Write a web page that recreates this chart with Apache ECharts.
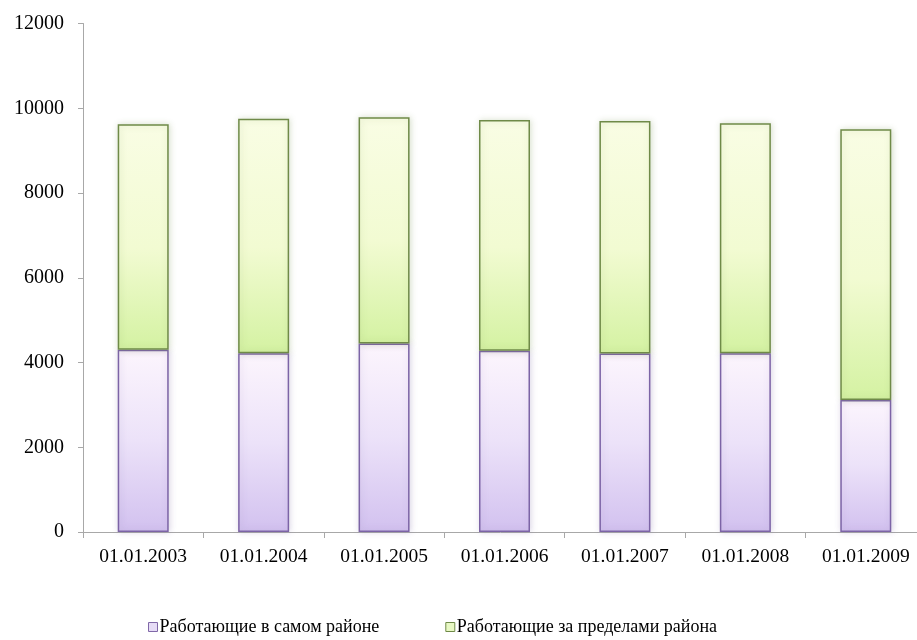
<!DOCTYPE html>
<html>
<head>
<meta charset="utf-8">
<script src="https://cdn.jsdelivr.net/npm/echarts@6/dist/echarts.min.js"></script>
<style>html,body{margin:0;padding:0;background:#fff}#c{width:917px;height:640px}</style>
</head>
<body>
<div id="c"></div>
<script>
const categories = ['01.01.2003','01.01.2004','01.01.2005','01.01.2006','01.01.2007','01.01.2008','01.01.2009'];
const localWorkers = [4300, 4220, 4450, 4275, 4210, 4220, 3115];
const outsideWorkers = [5320, 5530, 5340, 5445, 5490, 5425, 6390];
const seriesNames = ['Работающие в самом районе', 'Работающие за пределами района'];

const chart = echarts.init(document.getElementById('c'), null, {renderer: 'canvas'});
const font = 'Liberation Serif';
chart.setOption({
  animation: false,
  backgroundColor: '#ffffff',
  grid: {left: 83, width: 843, top: 23.5, bottom: 108, containLabel: false, outerBoundsMode: 'none'},
  legend: {
    top: 613, left: 143, itemGap: 66, itemWidth: 9, itemHeight: 9, icon: 'rect',
    textStyle: {fontFamily: font, fontSize: 18, color: '#000', padding: [0,0,0,-3]},
    data: [
      {name: seriesNames[0], itemStyle: {color: '#e6dcf6', borderColor: '#8068a8', borderWidth: 1}},
      {name: seriesNames[1], itemStyle: {color: '#e8f8c4', borderColor: '#6f8a48', borderWidth: 1}}
    ]
  },
  xAxis: {
    type: 'category', data: categories,
    axisLine: {lineStyle: {color: '#a8a8a8', width: 1}},
    axisTick: {show: true, length: 6, lineStyle: {color: '#a8a8a8'}},
    axisLabel: {fontFamily: font, fontSize: 19.5, color: '#000', margin: 15}
  },
  yAxis: {
    type: 'value', min: 0, max: 12000, interval: 2000,
    axisLine: {show: true, lineStyle: {color: '#a8a8a8', width: 1}},
    axisTick: {show: true, length: 5, lineStyle: {color: '#a8a8a8'}},
    splitLine: {show: false},
    axisLabel: {fontFamily: font, fontSize: 20, color: '#000', margin: 19, formatter: v => String(v)}
  },
  series: [
    {
      name: seriesNames[0], type: 'bar', stack: 'total', data: localWorkers, barWidth: 51,
      itemStyle: {
        color: new echarts.graphic.LinearGradient(0, 0, 0, 1, [
          {offset: 0, color: '#fcf5fd'}, {offset: 0.5, color: '#ece2f9'}, {offset: 1, color: '#d2c1ef'}
        ]),
        borderColor: '#7c64a6', borderWidth: 1.5,
        shadowColor: 'rgba(120,100,160,0.25)', shadowBlur: 6, shadowOffsetX: 1
      }
    },
    {
      name: seriesNames[1], type: 'bar', stack: 'total', data: outsideWorkers, barWidth: 51,
      itemStyle: {
        color: new echarts.graphic.LinearGradient(0, 0, 0, 1, [
          {offset: 0, color: '#f9fde4'}, {offset: 0.55, color: '#f2fbd2'}, {offset: 1, color: '#d4f2a2'}
        ]),
        borderColor: '#6f8a48', borderWidth: 1.5,
        shadowColor: 'rgba(110,140,70,0.25)', shadowBlur: 6, shadowOffsetX: 1
      }
    }
  ]
});
</script>
</body>
</html>
